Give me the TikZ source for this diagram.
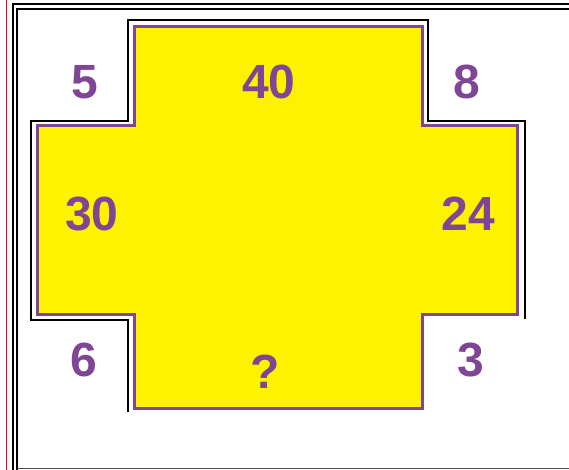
\documentclass[tikz,border=0pt]{standalone}
\usepackage{fontspec}
\setmainfont{Liberation Sans}
\definecolor{puzzleYellow}{RGB}{255,242,0}
\definecolor{puzzlePurple}{RGB}{128,70,150}

\begin{document}
\begin{tikzpicture}[
  x=1pt, y=-1pt,
  num/.style={font=\bfseries\fontsize{48}{48}\selectfont, text=puzzlePurple, inner sep=0pt},
  frameline/.style={line width=2.5pt},
  shadowline/.style={line width=1.6pt, line join=miter}
]
\useasboundingbox (0,0) rectangle (569,470);
% outer frame
\draw[red, line width=0.6pt] (6,0) -- (6,470);
\draw[frameline] (13,470) -- (13,4) -- (569,4);
\draw[line width=1.2pt] (17,470) -- (17,9) -- (569,9);
\draw[line width=1pt, black!70] (17,468) -- (569,468);
% cross
\draw[shadowline] (128,412) -- (128,320) -- (31,320) -- (31,121) -- (128,121)
  -- (128,20) -- (428,20) -- (428,121) -- (525,121) -- (525,319);
\draw[fill=puzzleYellow, draw=puzzlePurple, line width=3pt]
  (134,27) -- (422,27) -- (422,126) -- (517,126) -- (517,314) -- (422,314)
  -- (422,408) -- (134,408) -- (134,314) -- (37,314) -- (37,126) -- (134,126) -- cycle;
% numbers
\node[num] (tl) at (85,82) {5};
\node[num] (top) at (269,82) {40};
\node[num] (tr) at (467,82) {8};
\node[num] (left) at (92,214) {30};
\node[num] (right) at (468,214) {24};
\node[num] (bl) at (84,360) {6};
\node[num] (bottom) at (265,372) {?};
\node[num] (br) at (471,360) {3};
\end{tikzpicture}
\end{document}
